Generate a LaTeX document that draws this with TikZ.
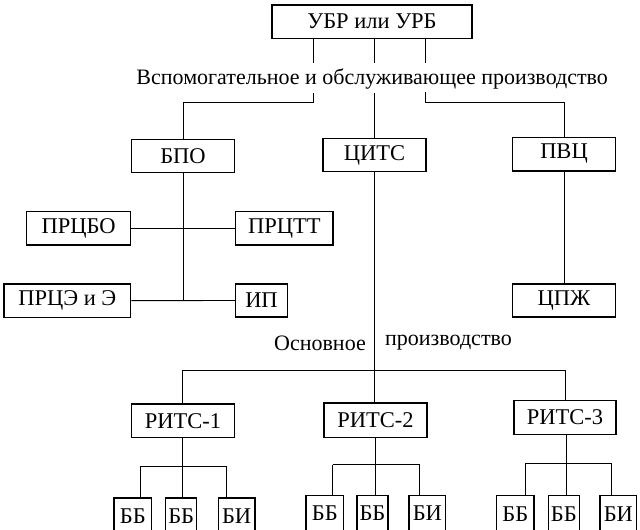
\documentclass[tikz,border=0pt]{standalone}
\usepackage{fontspec}
\setmainfont{Liberation Serif}
\begin{document}
\begin{tikzpicture}[x=1pt,y=-1pt,
  box/.style={draw, line width=1.4pt, inner sep=0pt, font=\fontsize{22.5}{26}\selectfont},
  sz/.style 2 args={minimum width=#1pt, minimum height=#2pt},
  ln/.style={line width=0.9pt},
  captxt/.style={inner sep=0pt, font=\fontsize{22}{26}\selectfont}]
\fill[white] (0,0) rectangle (640,530);
\useasboundingbox (0,0) rectangle (640,530);
% top
\node[box, sz={200}{33.3}] (ubr) at (372,21.65) {УБР или УРБ};
\node[captxt] (cap1) at (372.2,79) {Вспомогательное и обслуживающее производство};
% second level
\node[box, sz={102.6}{33}] (bpo) at (183,156) {БПО};
\node[box, sz={103}{33.5}] (cits) at (374.5,155) {ЦИТС};
\node[box, sz={102.6}{33.6}] (pvc) at (564,154) {ПВЦ};
% BPO children
\node[box, sz={104}{33.3}] (prcbo) at (78.7,228.35) {ПРЦБО};
\node[box, sz={97.3}{33.3}] (prctt) at (284.35,228.35) {ПРЦТТ};
\node[box, sz={126.7}{33.3}] (prce) at (67.35,300.65) {ПРЦЭ и Э};
\node[box, sz={51.6}{33}] (ip) at (261.5,300.5) {ИП};
\node[box, sz={102.6}{33.3}] (cpzh) at (564,300.5) {ЦПЖ};
% caption 2
\node[captxt, anchor=east] (osn) at (366,343) {Основное};
\node[captxt, anchor=west] (proizv) at (385,343) {производство};
% RITS
\node[box, sz={102.6}{33.7}] (rits1) at (183,420.85) {РИТС-1};
\node[box, sz={103}{34.5}] (rits2) at (375.5,420.25) {РИТС-2};
\node[box, sz={102}{33.6}] (rits3) at (565,417.5) {РИТС-3};
% bottom boxes (cut at the lower edge)
\node[box, sz={37.7}{36}, anchor=north] (b11) at (132.85,497.3) {ББ};
\node[box, sz={31}{36}, anchor=north] (b12) at (181.2,497.3) {ББ};
\node[box, sz={36.7}{36}, anchor=north] (b13) at (236.65,497.3) {БИ};
\node[box, sz={37.7}{36}, anchor=north] (b21) at (324.85,494.7) {ББ};
\node[box, sz={31}{36}, anchor=north] (b22) at (372.5,494.7) {ББ};
\node[box, sz={36.7}{36}, anchor=north] (b23) at (427.35,494.7) {БИ};
\node[box, sz={37.3}{36}, anchor=north] (b31) at (515.35,495) {ББ};
\node[box, sz={31}{36}, anchor=north] (b32) at (563.8,495) {ББ};
\node[box, sz={36.7}{36}, anchor=north] (b33) at (618.35,495) {БИ};
% junction coordinates
\coordinate (a1) at (313,63);
\coordinate (a2) at (374,63);
\coordinate (a3) at (425,63);
\coordinate (c1) at (313,93);
\coordinate (c2) at (374,93);
\coordinate (c3) at (425,92);
\coordinate (j1) at (183,102);
\coordinate (j3) at (564,102);
\coordinate (k2) at (183,300.7);
\coordinate (m) at (374.5,370);
\coordinate (mL) at (182,370);
\coordinate (mR) at (565,370);
\coordinate (g1) at (182.7,466);
\coordinate (g1L) at (140,466);
\coordinate (g1R) at (226,466);
\coordinate (g2) at (375.5,464.6);
\coordinate (g2L) at (332.5,464.6);
\coordinate (g2R) at (419.5,464.6);
\coordinate (g3) at (566.7,463.3);
\coordinate (g3L) at (525.7,463.3);
\coordinate (g3R) at (611.7,463.3);
% connectors
\draw[ln] (ubr.south -| a1) -- (a1);
\draw[ln] (ubr.south -| a2) -- (a2);
\draw[ln] (ubr.south -| a3) -- (a3);
\draw[ln] (c1) |- (j1) -- (bpo.north);
\draw[ln] (c2) -- (cits.north -| c2);
\draw[ln] (c3) |- (j3) -- (pvc.north);
\draw[ln] (bpo.south) -- (k2);
\draw[ln] (prcbo.east) -- (prctt.west);
\draw[ln] (prce.east) -- (ip.west);
\draw[ln] (pvc.south) -- (cpzh.north);
\draw[ln] (cits.south -| m) -- (m);
\draw[ln] (mL) -- (mR);
\draw[ln] (mL) -- (rits1.north -| mL);
\draw[ln] (m) -- (rits2.north -| m);
\draw[ln] (mR) -- (rits3.north -| mR);
\draw[ln] (rits1.south -| g1) -- (g1);
\draw[ln] (g1L) -- (g1R);
\draw[ln] (g1L) -- (b11.north -| g1L);
\draw[ln] (g1) -- (b12.north -| g1);
\draw[ln] (g1R) -- (b13.north -| g1R);
\draw[ln] (rits2.south -| g2) -- (g2);
\draw[ln] (g2L) -- (g2R);
\draw[ln] (g2L) -- (b21.north -| g2L);
\draw[ln] (g2) -- (b22.north -| g2);
\draw[ln] (g2R) -- (b23.north -| g2R);
\draw[ln] (rits3.south -| g3) -- (g3);
\draw[ln] (g3L) -- (g3R);
\draw[ln] (g3L) -- (b31.north -| g3L);
\draw[ln] (g3) -- (b32.north -| g3);
\draw[ln] (g3R) -- (b33.north -| g3R);
\end{tikzpicture}
\end{document}
